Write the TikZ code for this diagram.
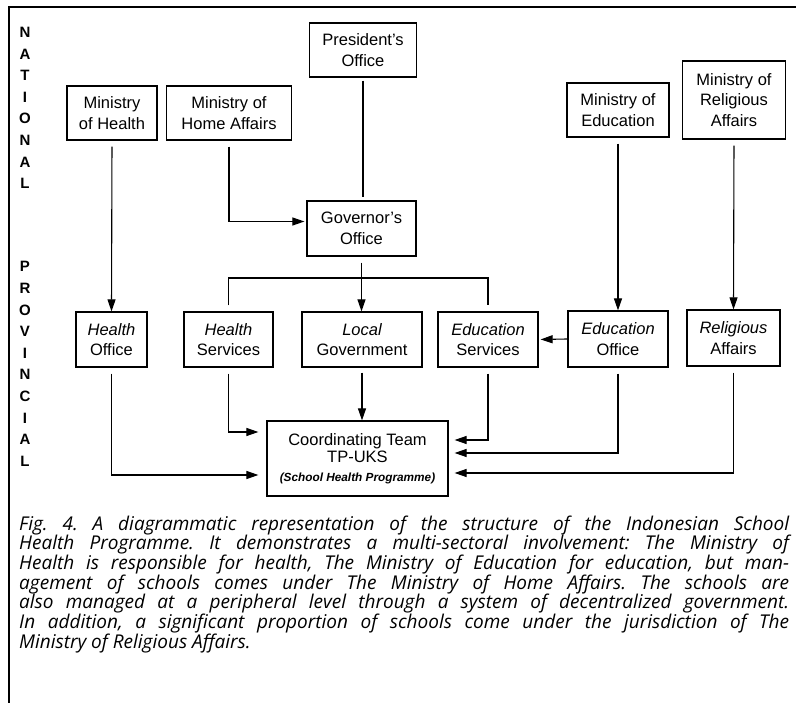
\documentclass[tikz,border=0pt]{standalone}
\usepackage{fontspec}
\setmainfont{Liberation Sans}
\newfontfamily\capfont{Open Sans}
\usetikzlibrary{arrows.meta}
\newcommand\bxfont{\fontsize{16.5}{20.5}\selectfont}
\tikzset{
  orgbox/.style={draw, line width=1.2pt, align=center, inner sep=0pt, font=\bxfont},
  conn/.style={line width=1.1pt},
  arr/.style={conn, -{Triangle[length=12pt,width=8pt]}},
  sideletters/.style={align=center, font=\bfseries\fontsize{15}{21.6}\selectfont},
  capline/.style={anchor=base west, inner sep=0pt, font=\capfont\itshape\fontsize{19}{19.7}\selectfont\frenchspacing}
}
\begin{document}
\begin{tikzpicture}[x=1pt,y=-1pt]
\useasboundingbox (0,0) rectangle (796,703);
% frame
\draw[line width=1.2pt] (796,7) -- (9,7) -- (9,703);
% side labels
\node[sideletters] (natl) at (25,108) {N\\A\\T\\I\\O\\N\\A\\L};
\node[sideletters] (prov) at (25,364) {P\\R\\O\\V\\I\\N\\C\\I\\A\\L};
% national level
\node[orgbox, minimum width=107pt, minimum height=54pt] (pres) at (363,50) {President's\\Office};
\node[orgbox, minimum width=90pt, minimum height=54pt] (moh) at (112,113) {Ministry\\of Health};
\node[orgbox, minimum width=125pt, minimum height=54pt] (mha) at (229,113) {Ministry of\\Home Affairs};
\node[orgbox, minimum width=102pt, minimum height=54pt] (moe) at (618,110) {Ministry of\\Education};
\node[orgbox, minimum width=103pt, minimum height=78pt] (mra) at (734,100) {Ministry of\\Religious\\Affairs};
\node[orgbox, minimum width=109pt, minimum height=55pt] (gov) at (361.5,228.5) {Governor's\\Office};
% provincial level
\node[orgbox, minimum width=71pt, minimum height=55pt] (ho) at (111.5,339.5) {\itshape Health\\Office};
\node[orgbox, minimum width=89pt, minimum height=55pt] (hs) at (228.5,339.5) {\itshape Health\\Services};
\node[orgbox, minimum width=120pt, minimum height=55pt] (lg) at (362,339.5) {\itshape Local\\Government};
\node[orgbox, minimum width=100pt, minimum height=55pt] (es) at (488,339.5) {\itshape Education\\Services};
\node[orgbox, minimum width=100pt, minimum height=56pt] (eo) at (618,339) {\itshape Education\\Office};
\node[orgbox, minimum width=93pt, minimum height=56pt] (ra) at (733.5,338) {\itshape Religious\\Affairs};
\node[orgbox, minimum width=181pt, minimum height=75pt] (ct) at (357.5,458.5) {Coordinating Team\\[-3pt]TP-UKS\\[-2pt]{\bfseries\itshape\fontsize{11.8}{13}\selectfont (School Health Programme)}};
\coordinate (bar) at (0,278);
% connectors
\draw[arr, shorten <=6pt] (moh.south) -- (ho.north);
\draw[arr, shorten <=6pt, shorten >=2pt] (mha.south) |- ([yshift=7pt]gov.west);
\draw[conn, shorten <=3pt, shorten >=3pt] (pres.south) -- (pres.south |- gov.north);
\draw[arr, shorten <=6pt] (gov.south) -- (gov.south |- lg.north);
\draw[conn, shorten <=6pt, shorten >=6pt] (hs.north) -- (hs.north |- bar) -| (es.north);
\draw[arr, shorten <=6pt] (moe.south) -- (eo.north);
\draw[arr, shorten <=6pt] (mra.south) -- (ra.north);
\draw[arr, shorten >=2pt] (eo.west) -- (es.east);
\draw[arr, shorten <=6pt, shorten >=8pt] (ho.south) |- ([yshift=-16.5pt]ct.west);
\draw[arr, shorten <=6pt, shorten >=8pt] (hs.south) |- ([yshift=26.5pt]ct.west);
\draw[arr, shorten <=5pt] (lg.south) -- (lg.south |- ct.north);
\draw[arr, shorten <=6pt, shorten >=6pt] (es.south) |- ([yshift=18.5pt]ct.east);
\draw[arr, shorten <=6pt, shorten >=6pt] (eo.south) |- ([yshift=5.5pt]ct.east);
\draw[arr, shorten <=6pt, shorten >=6pt] (ra.south) |- ([yshift=-14.5pt]ct.east);
% caption
\node[capline] (c1) at (19,530) {\makebox[770pt][s]{Fig. 4. A diagrammatic representation of the structure of the Indonesian School}};
\node[capline] (c2) at (19,549.7) {\makebox[770pt][s]{Health Programme. It demonstrates a multi-sectoral involvement: The Ministry of}};
\node[capline] (c3) at (19,569.4) {\makebox[770pt][s]{Health is responsible for health, The Ministry of Education for education, but man-}};
\node[capline] (c4) at (19,589.1) {\makebox[770pt][s]{agement of schools comes under The Ministry of Home Affairs. The schools are}};
\node[capline] (c5) at (19,608.8) {\makebox[770pt][s]{also managed at a peripheral level through a system of decentralized government.}};
\node[capline] (c6) at (19,628.5) {\makebox[770pt][s]{In addition, a significant proportion of schools come under the jurisdiction of The}};
\node[capline] (c7) at (19,648.2) {Ministry of Religious Affairs.};
\end{tikzpicture}
\end{document}
